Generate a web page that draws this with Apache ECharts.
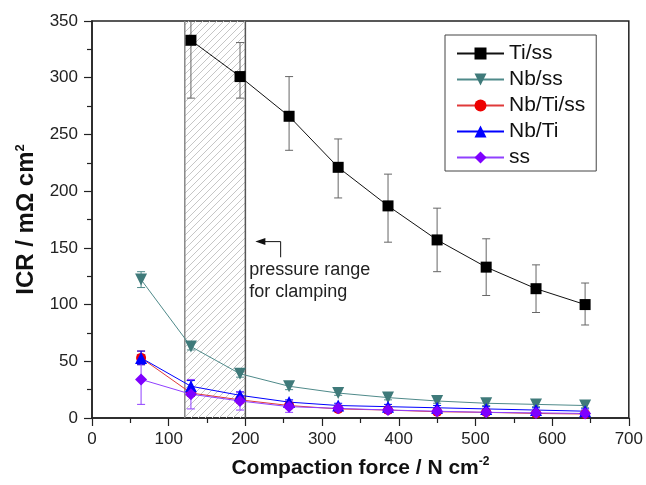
<!DOCTYPE html>
<html><head><meta charset="utf-8">
<script src="https://cdn.jsdelivr.net/npm/echarts@6/dist/echarts.min.js"></script>
<style>html,body{margin:0;padding:0;background:#fff}#c{width:646px;height:485px}</style>
</head><body><div id="c"></div>
<script>
// ---- data ----
const xValues   = [64, 129, 193, 257, 321, 386, 450, 514, 579, 643];
const tiSS      = [null, 333, 301, 266, 221, 187, 157, 133, 114, 100];
const tiSSLow   = [null, 282, 282, 236, 194, 155, 129, 108, 93, 82];
const tiSSHigh  = [null, 384, 331, 301, 246, 215, 185, 158, 135, 119];
const nbSS      = [122, 63, 39, 28, 22, 18, 15, 13, 12, 11];
const nbSSErr   = [7, 3, 3, 3, 2, 2, 2, 2, 2, 2];
const nbTiSS    = [53, 22, 16, 11, 8, 7, 5.5, 5, 4, 3.5];
const nbTiSSErr = [6, 3, 2, 2, 2, 1.5, 1.5, 1.5, 1.5, 1.5];
const nbTi      = [53, 28, 20, 14, 11, 10, 9, 8, 7, 6];
const nbTiErr   = [6, 5, 3, 2, 2, 2, 2, 2, 2, 2];
const ssVals    = [34, 21, 15, 10, 8.5, 7, 6, 5, 4.5, 4];
const ssErr     = [22, 13, 8, 5, 3, 3, 2, 2, 2, 2];
const clampRange = [121, 200];
const seriesNames = ['Ti/ss', 'Nb/ss', 'Nb/Ti/ss', 'Nb/Ti', 'ss'];
const xAxisRange = [0, 700, 100];
const yAxisRange = [0, 350, 50];
const annotationText = ['pressure range', 'for clamping'];
const arrowPath = [[213, 155.5], [246, 155.5], [246, 141.7]];
const annotationAnchor = [205, 140];

const FONT = '"Liberation Sans", Arial, sans-serif';

function pairs(ys) { return xValues.map((x, i) => ys[i] == null ? null : [x, ys[i]]).filter(Boolean); }
function errData(ys, lo, hi) {
  const out = [];
  xValues.forEach((x, i) => { if (ys[i] != null) out.push([x, lo[i], hi[i]]); });
  return out;
}
function symErr(ys, e) {
  return errData(ys, ys.map((v, i) => v - e[i]), ys.map((v, i) => v + e[i]));
}

// hatch pattern
const T = 7;
const pat = document.createElement('canvas');
pat.width = T; pat.height = T;
(function () {
  const g = pat.getContext('2d');
  g.strokeStyle = '#c6c6c6'; g.lineWidth = 1;
  g.beginPath();
  g.moveTo(-1, T + 1); g.lineTo(T + 1, -1);
  g.moveTo(-T - 1, 1); g.lineTo(1, -T - 1);
  g.moveTo(T - 1, 2 * T + 1); g.lineTo(2 * T + 1, T - 1);
  g.stroke();
})();

function errRender(color) {
  return function (params, api) {
    const x = api.value(0), lo = api.value(1), hi = api.value(2);
    const hiC = Math.min(hi, yAxisRange[1]);
    const pLo = api.coord([x, lo]), pHi = api.coord([x, hiC]);
    const w = 4;
    const st = { stroke: color, lineWidth: 1 };
    const ch = [
      { type: 'line', shape: { x1: pLo[0], y1: pLo[1], x2: pHi[0], y2: pHi[1] }, style: st },
      { type: 'line', shape: { x1: pLo[0] - w, y1: pLo[1], x2: pLo[0] + w, y2: pLo[1] }, style: st }
    ];
    if (hi <= yAxisRange[1]) ch.push({ type: 'line', shape: { x1: pHi[0] - w, y1: pHi[1], x2: pHi[0] + w, y2: pHi[1] }, style: st });
    return { type: 'group', children: ch };
  };
}

const colors = {
  'Ti/ss':   { line: '#111111', mark: '#000000', err: '#666666', sym: 'rect', size: 11, rot: 0 },
  'Nb/ss':   { line: '#4f8a8a', mark: '#3f7a7a', err: '#4f8a8a', sym: 'triangle', size: 12, rot: 180 },
  'Nb/Ti/ss':{ line: '#e03a3a', mark: '#ee0000', err: '#d04040', sym: 'circle', size: 10, rot: 0 },
  'Nb/Ti':   { line: '#0000ff', mark: '#0000ff', err: '#0000ff', sym: 'triangle', size: 12, rot: 0 },
  'ss':      { line: '#9040ff', mark: '#7f00ff', err: '#9040ff', sym: 'diamond', size: 12, rot: 0 }
};
const valuesByName = { 'Ti/ss': tiSS, 'Nb/ss': nbSS, 'Nb/Ti/ss': nbTiSS, 'Nb/Ti': nbTi, 'ss': ssVals };
const errByName = {
  'Ti/ss': errData(tiSS, tiSSLow, tiSSHigh),
  'Nb/ss': symErr(nbSS, nbSSErr),
  'Nb/Ti/ss': symErr(nbTiSS, nbTiSSErr),
  'Nb/Ti': symErr(nbTi, nbTiErr),
  'ss': symErr(ssVals, ssErr)
};

const series = [];
// hatched clamping range
series.push({
  type: 'custom', name: 'clamp', silent: true, z: 1,
  data: [[clampRange[0], clampRange[1]]],
  renderItem: function (params, api) {
    const a = api.coord([api.value(0), yAxisRange[1]]);
    const b = api.coord([api.value(1), yAxisRange[0]]);
    return { type: 'group', children: [
      { type: 'rect', shape: { x: a[0], y: a[1], width: b[0] - a[0], height: b[1] - a[1] },
        style: { fill: { image: pat, repeat: 'repeat' }, stroke: null } },
      { type: 'line', shape: { x1: a[0], y1: a[1], x2: a[0], y2: b[1] }, style: { stroke: '#888', lineWidth: 1.5 } },
      { type: 'line', shape: { x1: b[0], y1: a[1], x2: b[0], y2: b[1] }, style: { stroke: '#555', lineWidth: 1.5 } }
    ] };
  }
});
// annotation
series.push({
  type: 'custom', name: 'annot', silent: true, z: 3,
  data: [[0]],
  renderItem: function (params, api) {
    const p = arrowPath.map(q => api.coord(q));
    const t = api.coord(annotationAnchor);
    return { type: 'group', children: [
      { type: 'polyline', shape: { points: [[p[0][0] + 8, p[0][1]], p[1], p[2]] }, style: { stroke: '#111', lineWidth: 1, fill: null } },
      { type: 'polygon', shape: { points: [p[0], [p[0][0] + 10, p[0][1] - 3.5], [p[0][0] + 10, p[0][1] + 3.5]] }, style: { fill: '#111' } },
      { type: 'text', style: { text: annotationText.join('\n'), x: t[0], y: t[1], fill: '#222',
        fontSize: 18, fontFamily: FONT, lineHeight: 22, align: 'left', verticalAlign: 'top' } }
    ] };
  }
});

seriesNames.forEach(n => {
  const c = colors[n];
  series.push({
    type: 'custom', name: n + ' err', silent: true, z: 2,
    data: errByName[n], renderItem: errRender(c.err)
  });
});
seriesNames.forEach(n => {
  const c = colors[n];
  series.push({
    type: 'line', name: n, data: pairs(valuesByName[n]), z: 4,
    symbol: c.sym, symbolSize: c.size, symbolRotate: c.rot, showAllSymbol: true,
    lineStyle: { color: c.line, width: 1 },
    itemStyle: { color: c.mark, borderWidth: 0 },
    animation: false
  });
});

const chart = echarts.init(document.getElementById('c'), null, { renderer: 'canvas' });
chart.setOption({
  animation: false,
  backgroundColor: '#fff',
  grid: { left: 92, right: 14, top: 21, bottom: 67, show: true, borderColor: '#222', borderWidth: 1.5, backgroundColor: 'transparent' },
  legend: {
    data: seriesNames, orient: 'vertical', left: 445, top: 35,
    borderColor: '#444', borderWidth: 1, padding: [8, 11, 3, 11],
    itemWidth: 47, itemHeight: 15, itemGap: 5,
    textStyle: { fontSize: 21, lineHeight: 19, fontFamily: FONT, color: '#111' }
  },
  xAxis: {
    type: 'value', min: xAxisRange[0], max: xAxisRange[1], interval: xAxisRange[2],
    name: '{b|Compaction force / N cm}{s|-2}', nameLocation: 'middle', nameGap: 38,
    nameTextStyle: { rich: {
      b: { fontSize: 21, fontWeight: 'bold', fontFamily: FONT, color: '#111', lineHeight: 24 },
      s: { fontSize: 12, fontWeight: 'bold', fontFamily: FONT, color: '#111', verticalAlign: 'top', lineHeight: 12 } } },
    axisLine: { lineStyle: { color: '#222', width: 1.5 } },
    axisTick: { inside: false, length: 8, lineStyle: { color: '#222', width: 1.2 } },
    minorTick: { show: true, splitNumber: 2, length: 5, lineStyle: { color: '#222', width: 1.2 } },
    splitLine: { show: false }, minorSplitLine: { show: false },
    axisLabel: { fontSize: 17, fontFamily: FONT, color: '#222', margin: 13 }
  },
  yAxis: {
    type: 'value', min: yAxisRange[0], max: yAxisRange[1], interval: yAxisRange[2],
    name: '{b|ICR / mΩ cm}{s|2}', nameLocation: 'middle', nameGap: 47, nameRotate: 90,
    nameTextStyle: { rich: {
      b: { fontSize: 24, fontWeight: 'bold', fontFamily: FONT, color: '#111', lineHeight: 26 },
      s: { fontSize: 13, fontWeight: 'bold', fontFamily: FONT, color: '#111', verticalAlign: 'top', lineHeight: 13 } } },
    axisLine: { lineStyle: { color: '#222', width: 1.5 } },
    axisTick: { inside: false, length: 8, lineStyle: { color: '#222', width: 1.2 } },
    minorTick: { show: true, splitNumber: 2, length: 5, lineStyle: { color: '#222', width: 1.2 } },
    splitLine: { show: false }, minorSplitLine: { show: false },
    axisLabel: { fontSize: 17, fontFamily: FONT, color: '#222', margin: 14 }
  },
  series: series
});
</script>
</body></html>
